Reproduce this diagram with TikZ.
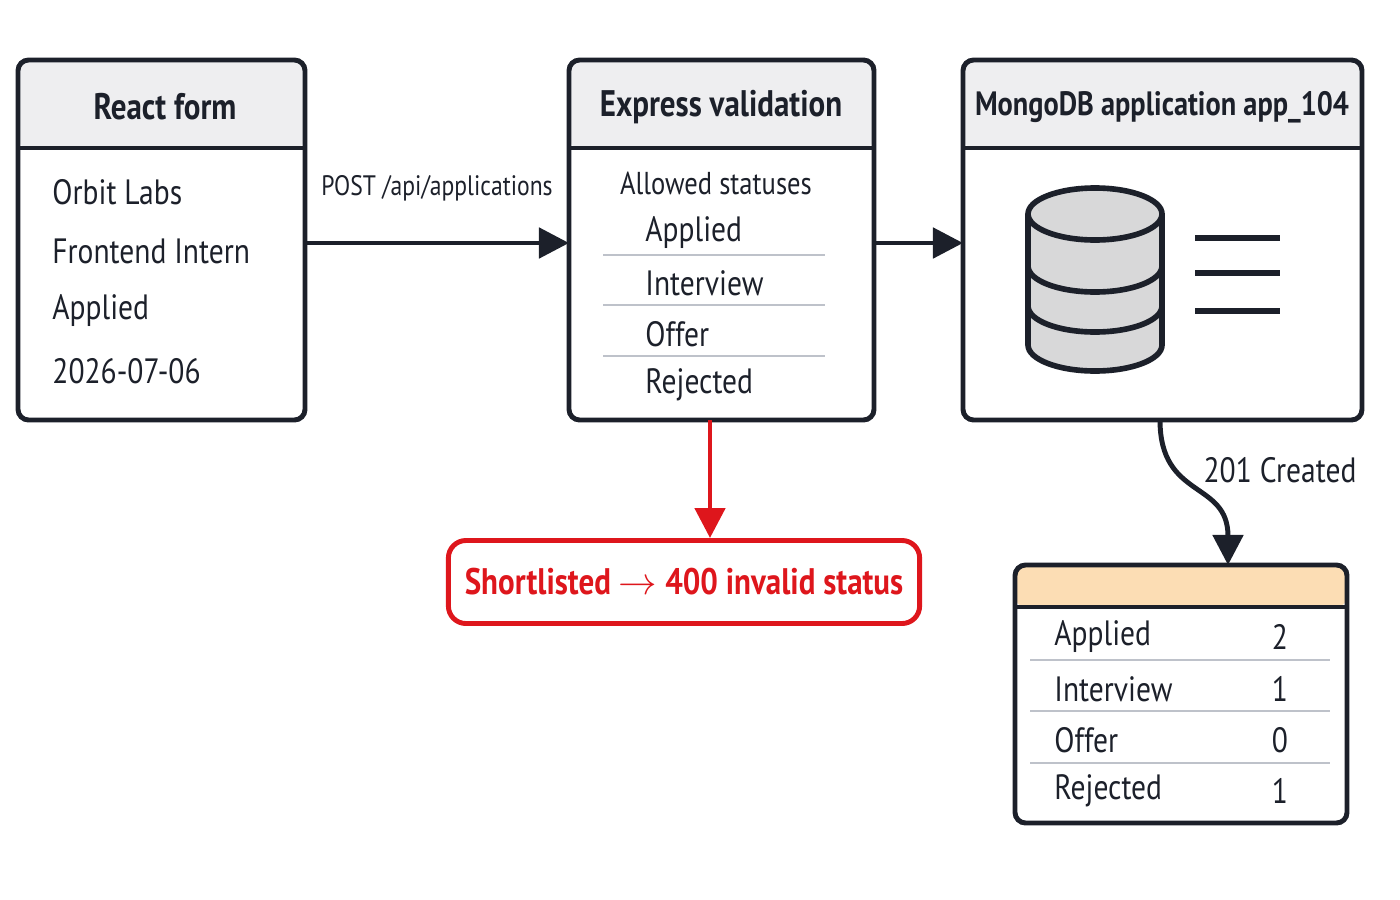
\documentclass[tikz,border=0pt]{standalone}
\usepackage{fontspec}
\setmainfont{PT Sans}[FakeStretch=0.84]
\usetikzlibrary{positioning, arrows.meta, shapes.geometric}
\definecolor{headgray}{RGB}{238,238,240}
\definecolor{peach}{RGB}{252,221,180}
\definecolor{errred}{RGB}{222,22,28}
\definecolor{ink}{RGB}{28,32,42}
\definecolor{sep}{RGB}{190,194,202}

\begin{document}
\begin{tikzpicture}[x=0.01cm, y=-0.01cm,
					>={Triangle[length=3mm,width=3mm]},
					box/.style={draw=ink, line width=1.4pt, rounded corners=3pt},
					head/.style={font=\fontsize{10.5}{12}\selectfont\bfseries, text=ink},
					item/.style={font=\fontsize{10}{11}\selectfont, text=ink, anchor=west},
					flow/.style={->, draw=ink, line width=1.4pt},
					disk/.style={ink, line width=1.6pt}]
	\useasboundingbox (0,0) rectangle (1400,900);

	% react form
	\fill[headgray, rounded corners=3pt] (18,60) rectangle (305,148);
	\draw[box] (18,60) rectangle (305,420);
	\draw[ink, line width=1.4pt] (18,148) -- (305,148);
	\node[head] (react) at (165,107) {React form};
	\node[item] (r1) at (40,192) {Orbit Labs};
	\node[item] (r2) at (40,251) {Frontend Intern};
	\node[item] (r3) at (40,311) {Applied};
	\node[item] (r4) at (40,371) {2026-07-06};
	\coordinate (reactout) at (305,243);

	% express validation
	\fill[headgray, rounded corners=3pt] (569,60) rectangle (874,148);
	\draw[box] (569,60) rectangle (874,420);
	\draw[ink, line width=1.4pt] (569,148) -- (874,148);
	\node[head] (express) at (721,107) {Express validation};
	\node[font=\fontsize{9}{10}\selectfont, text=ink] (allowed) at (716,183) {Allowed statuses};
	\foreach \s/\y in {Applied/233, Interview/283, Offer/334, Rejected/385}
		\node[item] at (633,\y) {\s};
	\foreach \y in {255,305,356}
		\draw[sep, line width=0.8pt] (603,\y) -- (825,\y);
	\coordinate (expin) at (569,243);
	\coordinate (expout) at (874,243);
	\coordinate (expbot) at (710,420);

	% mongodb
	\fill[headgray, rounded corners=3pt] (963,60) rectangle (1362,148);
	\draw[box] (963,60) rectangle (1362,420);
	\draw[ink, line width=1.4pt] (963,148) -- (1362,148);
	\node[head, font=\fontsize{9.6}{12}\selectfont\bfseries] (mongo) at (1162,107) {MongoDB application app\_104};
	\coordinate (mongoin) at (963,243);
	\coordinate (mongobot) at (1160,420);
	% cylinder
	\draw[disk, fill=headgray!80!gray]
		(1028,214) -- (1028,345) arc[start angle=180, end angle=0, x radius=67, y radius=26]
		-- (1162,214);
	\draw[disk, fill=headgray!80!gray] (1095,214) ellipse[x radius=67, y radius=26];
	\draw[disk] (1028,266) arc[start angle=180, end angle=0, x radius=67, y radius=26];
	\draw[disk] (1028,306) arc[start angle=180, end angle=0, x radius=67, y radius=26];
	\foreach \y in {238,273,311}
		\draw[disk] (1195,\y) -- (1280,\y);

	% error
	\node[draw=errred, line width=1.4pt, rounded corners=5pt, minimum width=4.71cm,
		minimum height=0.83cm, text=errred, font=\fontsize{10.5}{12}\selectfont\bfseries] (err) at (684,582)
		{Shortlisted $\rightarrow$ 400 invalid status};

	% counts
	\fill[peach, rounded corners=3pt] (1015,565) rectangle (1347,607);
	\draw[box] (1015,565) rectangle (1347,823);
	\draw[ink, line width=1.4pt] (1015,607) -- (1347,607);
	\coordinate (countin) at (1228,565);
	\foreach \s/\n/\y in {Applied/2/637, Interview/1/689, Offer/0/740, Rejected/1/791}{
		\node[item] at (1042,\y) {\s};
		\node[font=\fontsize{10}{11}\selectfont, text=ink] at (1280,\y) {\n};
	}
	\foreach \y in {660,711,763}
		\draw[sep, line width=0.8pt] (1030,\y) -- (1330,\y);

	% connectors
	\draw[flow] (reactout) -- node[above=8pt, font=\fontsize{8}{9}\selectfont, text=ink] {POST /api/applications} (expin);
	\draw[flow] (expout) -- (mongoin);
	\draw[->, draw=errred, line width=1.4pt] (expbot) -- (err.north -| expbot);
	\draw[flow] (mongobot) .. controls (1160,500) and (1228,480) .. (countin);
	\node[font=\fontsize{10}{11}\selectfont, text=ink] (created) at (1280,470) {201 Created};
\end{tikzpicture}
\end{document}
